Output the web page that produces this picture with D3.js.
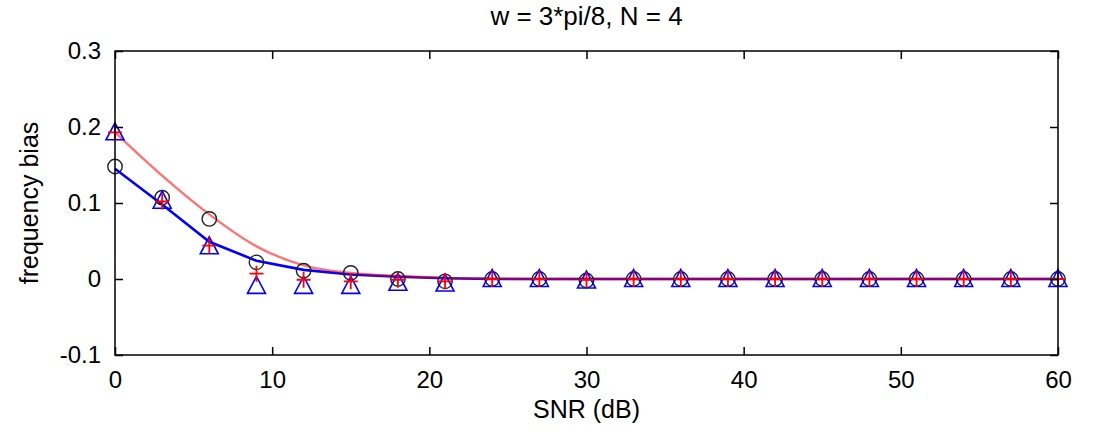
<!DOCTYPE html>
<html><head><meta charset="utf-8">
<script src="https://cdn.jsdelivr.net/npm/d3@7"></script>
<style>body{margin:0;background:#fff}svg{display:block}text{font-family:"Liberation Sans",Arial,sans-serif;fill:#000}</style>
</head><body><svg id="c" width="1105" height="441"></svg>
<script>
const snr = [0,3,6,9,12,15,18,21,24,27,30,33,36,39,42,45,48,51,54,57,60];
const circleVals = [0.148,0.107,0.079,0.022,0.011,0.008,0.000,-0.003,0,0,-0.002,0,0,0,0,0,0,0,0,0,0];
const plusVals   = [0.193,0.102,0.044,0.007,-0.001,-0.003,-0.001,-0.003,0,0,-0.001,0,0,0,0,0,0,0,0,0,0];
const triVals    = [0.193,0.103,0.043,-0.009,-0.009,-0.009,-0.005,-0.006,0,0,-0.002,0,0,0,0,0,0,0,0,0,0];
const redLine    = [0.193,0.136,0.085,0.043,0.018,0.008,0.004,0.0015,0.0005,0,0,0,0,0,0,0,0,0,0,0,0];
const blueLine   = [0.145,0.098,0.049,0.024,0.012,0.006,0.003,0.001,0,0,0,0,0,0,0,0,0,0,0,0,0];
const xTicks = [0,10,20,30,40,50,60];
const yTicks = [-0.1,0,0.1,0.2,0.3];
const yTickLabels = ["-0.1","0","0.1","0.2","0.3"];
const title = "w = 3*pi/8, N = 4";
const xLabel = "SNR (dB)";
const yLabel = "frequency bias";

const svg = d3.select("#c");
const L=115, R=1058, T=51, B=355;
const x = d3.scaleLinear().domain([0,60]).range([L,R]);
const y = d3.scaleLinear().domain([-0.1,0.3]).range([B,T]);
const FS = 24;

const mk = (vals, curve) => d3.line().x((d,i)=>x(snr[i])).y(d=>y(d)).curve(curve)(vals);
svg.append("path").attr("d", mk(blueLine, d3.curveLinear)).attr("fill","none").attr("stroke","#0000ff").attr("stroke-width",2.6);
svg.append("path").attr("d", mk(redLine, d3.curveMonotoneX)).attr("fill","none").attr("stroke","#ff0000").attr("stroke-opacity",0.55).attr("stroke-width",2.4);

const g = svg.append("g");
snr.forEach((s,i)=>{
  g.append("circle").attr("cx",x(s)).attr("cy",y(circleVals[i])).attr("r",7.2).attr("fill","none").attr("stroke","#222").attr("stroke-width",1.4);
});
snr.forEach((s,i)=>{
  const cx=x(s), cy=y(triVals[i]);
  g.append("path").attr("d",`M${cx},${cy-9.5}L${cx+9},${cy+7.5}L${cx-9},${cy+7.5}Z`).attr("fill","none").attr("stroke","#0000ff").attr("stroke-width",1.6);
});
snr.forEach((s,i)=>{
  const cx=x(s), cy=y(plusVals[i]);
  g.append("path").attr("d",`M${cx-7},${cy}H${cx+7}M${cx},${cy-8}V${cy+8}`).attr("stroke","#ff0000").attr("stroke-width",1.8).attr("fill","none");
});

svg.append("rect").attr("x",L).attr("y",T).attr("width",R-L).attr("height",B-T).attr("fill","none").attr("stroke","#000").attr("stroke-width",1.5);

const xa = svg.append("g").attr("transform",`translate(0,${B})`).call(d3.axisBottom(x).tickValues(xTicks).tickSize(-8).tickPadding(16).tickFormat(d3.format("d")));
const xt = svg.append("g").attr("transform",`translate(0,${T})`).call(d3.axisTop(x).tickValues(xTicks).tickSize(-8).tickFormat(""));
const ya = svg.append("g").attr("transform",`translate(${L},0)`).call(d3.axisLeft(y).tickValues(yTicks).tickSize(-8).tickPadding(14).tickFormat((d,i)=>yTickLabels[i]));
const yr = svg.append("g").attr("transform",`translate(${R},0)`).call(d3.axisRight(y).tickValues(yTicks).tickSize(-8).tickFormat(""));
[xa,xt,ya,yr].forEach(a=>{a.select(".domain").remove(); a.selectAll("line").attr("stroke","#000").attr("stroke-width",1.5); a.selectAll("text").attr("font-size",FS).attr("font-family","Liberation Sans, Arial, sans-serif").attr("fill","#000");});

svg.append("text").attr("x",(L+R)/2).attr("y",25).attr("text-anchor","middle").attr("font-size",26).text(title);
svg.append("text").attr("x",(L+R)/2).attr("y",418).attr("text-anchor","middle").attr("font-size",25).text(xLabel);
svg.append("text").attr("transform",`translate(38,${(T+B)/2}) rotate(-90)`).attr("text-anchor","middle").attr("font-size",25).text(yLabel);
</script></body></html>
